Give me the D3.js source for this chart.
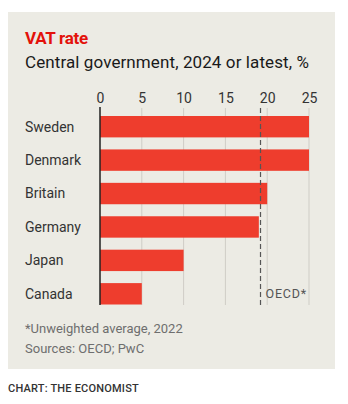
<!DOCTYPE html>
<html>
<head>
<meta charset="utf-8">
<script src="https://cdn.jsdelivr.net/npm/d3@7"></script>
<style>
  html, body { margin: 0; padding: 0; background: #fff; }
  svg { display: block; font-family: Roboto, "Liberation Sans", sans-serif; }
</style>
</head>
<body>
<div id="chart"></div>
<script>
// data
const countries = ["Sweden", "Denmark", "Britain", "Germany", "Japan", "Canada"];
const vatRates = [25, 25, 20, 19, 10, 5];
const oecdAverage = [19.2];
const xTicks = [0, 5, 10, 15, 20, 25];
const notes = ["*Unweighted average, 2022", "Sources: OECD; PwC"];

const width = 348, height = 404;
const rows = countries.map((c, i) => ({ country: c, value: vatRates[i] }));

const svg = d3.select("#chart").append("svg").attr("width", width).attr("height", height);

// panel
svg.append("rect")
  .attr("x", 8).attr("y", 12)
  .attr("width", 327).attr("height", 357)
  .attr("fill", "#ecebe4");

svg.append("text")
  .attr("x", 25).attr("y", 44)
  .attr("fill", "#e3120b")
  .style("font-size", "17px").style("font-weight", "700")
  .style("letter-spacing", "-0.3px")
  .text("VAT rate");

svg.append("text")
  .attr("x", 25).attr("y", 68)
  .attr("fill", "#1a1a1a")
  .style("font-size", "17px")
  .style("letter-spacing", "0.1px")
  .text("Central government, 2024 or latest, %");

const x = d3.scaleLinear().domain([0, 25]).range([100, 309]);
const y = d3.scaleBand().domain(countries).range([116, 304.5]).paddingInner(0.36).paddingOuter(0);

// gridlines
svg.append("g")
  .selectAll("line")
  .data(xTicks.slice(1))
  .join("line")
  .attr("x1", d => x(d)).attr("x2", d => x(d))
  .attr("y1", 108).attr("y2", 305)
  .attr("stroke", "#cfcdc6").attr("stroke-width", 1);

// axis labels on top
const axis = svg.append("g")
  .attr("transform", "translate(0,103)")
  .call(d3.axisTop(x).tickValues(xTicks).tickSize(0).tickPadding(0));
axis.select(".domain").remove();
axis.selectAll("text")
  .attr("fill", "#333")
  .style("font-size", "14px")
  .style("font-family", "Roboto, sans-serif")
  .attr("dy", 0);

// bars
svg.append("g")
  .selectAll("rect")
  .data(rows)
  .join("rect")
  .attr("x", x(0))
  .attr("y", d => y(d.country))
  .attr("width", d => x(d.value) - x(0))
  .attr("height", y.bandwidth())
  .attr("fill", "#ee3d2d");

// country labels
svg.append("g")
  .selectAll("text")
  .data(rows)
  .join("text")
  .attr("x", 25)
  .attr("y", d => y(d.country) + y.bandwidth() / 2)
  .attr("dy", "0.35em")
  .attr("fill", "#333")
  .style("font-size", "14px")
  .text(d => d.country);

// zero line
svg.append("line")
  .attr("x1", x(0)).attr("x2", x(0))
  .attr("y1", 107).attr("y2", 305)
  .attr("stroke", "#222").attr("stroke-width", 1.5);

// OECD average
svg.append("g")
  .selectAll("line")
  .data(oecdAverage)
  .join("line")
  .attr("x1", d => x(d)).attr("x2", d => x(d))
  .attr("y1", 108).attr("y2", 305)
  .attr("stroke", "#555").attr("stroke-width", 1.2)
  .attr("stroke-dasharray", "5,3");

svg.append("text")
  .attr("x", x(oecdAverage[0]) + 5).attr("y", 298)
  .attr("fill", "#555")
  .style("font-size", "12.5px")
  .style("letter-spacing", "0.8px")
  .text("OECD*");

// footnotes
svg.append("g")
  .selectAll("text")
  .data(notes)
  .join("text")
  .attr("x", 25)
  .attr("y", (d, i) => 333 + i * 20)
  .attr("fill", "#6e6e6e")
  .style("font-size", "13px")
  .text(d => d);

svg.append("text")
  .attr("x", 8).attr("y", 392)
  .attr("fill", "#333")
  .style("font-size", "11px").style("font-weight", "500")
  .style("letter-spacing", "0.2px")
  .text("CHART: THE ECONOMIST");
</script>
</body>
</html>
